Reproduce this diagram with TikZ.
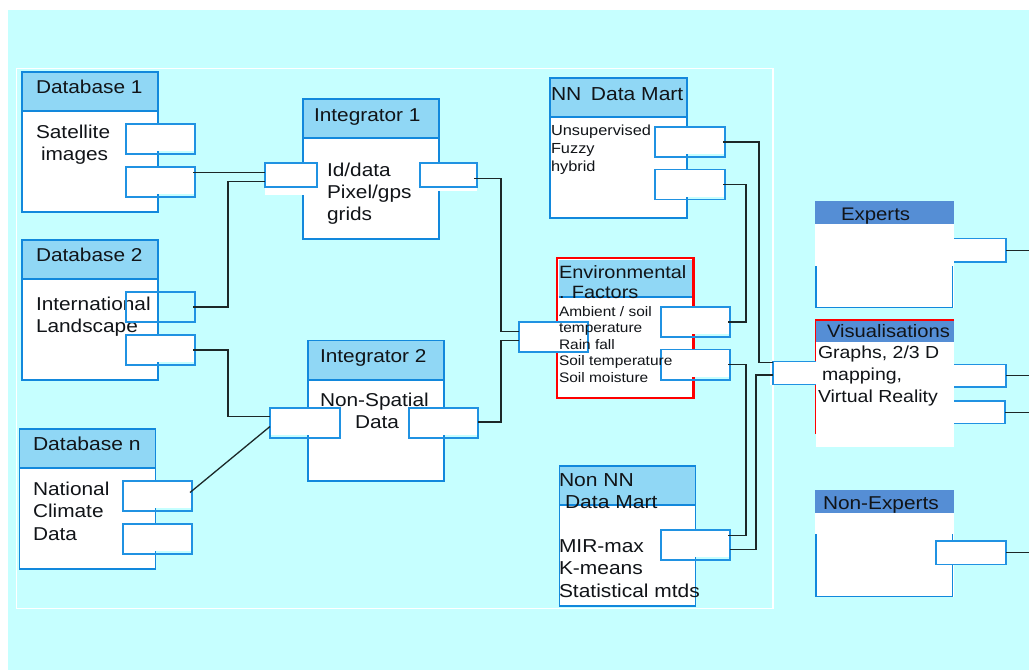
\documentclass[tikz,border=0pt]{standalone}
\usepackage{fontspec}
\setmainfont[FakeStretch=1.12]{Liberation Sans}
\definecolor{bgc}{HTML}{C6FFFF}
\definecolor{edgeb}{HTML}{1288DC}
\definecolor{portb}{HTML}{2092E2}
\definecolor{headl}{HTML}{90D7F5}
\definecolor{headd}{HTML}{558ED5}
\definecolor{ink}{HTML}{111418}
\definecolor{wirec}{HTML}{1C2828}
\tikzset{
  boxbody/.style={draw=edgeb,line width=1.7pt,fill=white,inner sep=0,outer sep=0},
  boxhead/.style={draw=edgeb,line width=1.4pt,fill=headl,inner sep=0,outer sep=0},
  redbody/.style={draw=red,line width=2.6pt,fill=white,inner sep=0,outer sep=0},
  redhead/.style={fill=headl,inner sep=0,outer sep=0},
  darkhead/.style={fill=headd,inner sep=0,outer sep=0},
  whitebody/.style={fill=white,inner sep=0,outer sep=0},
  portbox/.style={draw=portb,line width=1.4pt,inner sep=0,outer sep=0},
  labeltext/.style={anchor=base west,inner sep=0,outer sep=0,text=ink},
  conn/.style={draw=wirec,line width=1.4pt,line join=miter},
  sideline/.style={draw=edgeb,line width=1.5pt}
}
% rectangle node from corners: style, name, x1, y1, x2, y2
\newcommand\rectnode[6]{\node[#1,minimum width={(#5)-(#3)},minimum height={(#6)-(#4)}] (#2) at ({((#3)+(#5))/2},{((#4)+(#6))/2}) {};}
% port: name, x1, y1, x2, y2, lower edge of the white fill
\newcommand\portat[6]{\fill[white] (#2,#3) rectangle (#4,#6);\rectnode{portbox}{#1}{#2}{#3}{#4}{#5}}
% text: name, x, baseline, size, line pitch, lines
\newcommand\Ln[1]{\hbox{#1}}
\newcommand\txt[6]{\node[labeltext] (#1) at (#2,#3) {\fontsize{#4}{#5}\selectfont\vtop{\baselineskip=#5pt\lineskiplimit=-20pt #6}};}
% Z shaped wire: start, end, x of the vertical run
\newcommand\zwire[3]{\coordinate (zs) at #1;\coordinate (ze) at #2;\coordinate (zb) at (#3,0);\draw[conn] (zs) -- (zs -| zb) -- (ze -| zb) -- (ze);}
\begin{document}
\begin{tikzpicture}[x=1pt,y=-1pt]
\useasboundingbox (0,0) rectangle (1029,670);
\fill[white] (0,0) rectangle (1029,670);
\rectnode{fill=bgc,inner sep=0,outer sep=0}{sheet}{8}{10}{1029}{670}
\rectnode{draw=white,line width=1.4pt,inner sep=0,outer sep=0}{frame}{16.5}{68.5}{773}{608.5}

% boxes
\rectnode{boxbody}{dbOne}{22}{72}{158}{212}
\rectnode{boxhead}{dbOneH}{22}{72}{158}{111}
\rectnode{boxbody}{intOne}{303}{99}{439}{239}
\rectnode{boxhead}{intOneH}{303}{99}{439}{138}
\rectnode{boxbody}{dbTwo}{22}{240}{158}{380}
\rectnode{boxhead}{dbTwoH}{22}{240}{158}{279}
\rectnode{boxbody}{intTwo}{308}{340.5}{444}{481}
\rectnode{boxhead}{intTwoH}{308}{340.5}{444}{380}
\rectnode{boxbody}{dbN}{19.5}{429}{155.5}{569}
\rectnode{boxhead}{dbNH}{19.5}{429}{155.5}{468}
\rectnode{boxbody,line width=2.4pt}{nnMart}{550}{78}{687}{218}
\rectnode{boxhead,line width=2.4pt}{nnMartH}{550}{78}{687}{117}
\rectnode{redbody}{env}{557}{258}{693.5}{398}
\rectnode{redhead}{envH}{558.5}{259.5}{692}{297}
\draw[sideline] (envH.south west) -- (envH.south east);
\rectnode{boxbody}{nonNN}{559.5}{466}{695.5}{606}
\rectnode{boxhead}{nonNNH}{559.5}{466}{695.5}{505}

% right column
\rectnode{whitebody}{exp}{815}{201}{954}{307.5}
\rectnode{darkhead}{expH}{815}{201}{954}{224}
\draw[sideline] (816,266) -- (816,307.5) -- (952.5,307.5) -- (952.5,266);
\rectnode{whitebody}{viz}{816}{321}{954}{447}
\rectnode{darkhead}{vizH}{815}{320.5}{954}{342}
\draw[draw=red,line width=1.6pt] (954,320) -- (815.5,320) -- (815.5,434);
\rectnode{whitebody}{nonExp}{815}{490}{954}{596.5}
\rectnode{darkhead}{nonExpH}{815}{490}{954}{513}
\draw[sideline] (816,534) -- (816,596.5) -- (952.5,596.5) -- (952.5,534);

% text under the ports
\txt{tDbOne}{36}{93}{18.6}{22}{\Ln{Database 1}}
\txt{tDbOneB}{36}{138.3}{18.6}{21.8}{\Ln{Satellite}\Ln{\hspace*{5pt}images}}
\txt{tIntOne}{314}{121}{18.6}{22}{\Ln{Integrator 1}}
\txt{tIntOneB}{327}{176}{18.6}{22}{\Ln{Id/data}\Ln{Pixel/gps}\Ln{grids}}
\txt{tDbTwo}{36}{261}{18.6}{22}{\Ln{Database 2}}
\txt{tDbTwoB}{36}{310}{18.6}{22}{\Ln{International}\Ln{Landscape}}
\txt{tDbN}{33}{450.7}{18.8}{22}{\Ln{Database n}}
\txt{tDbNB}{33}{495}{18.6}{22.5}{\Ln{National}\Ln{Climate}\Ln{Data}}
\txt{tIntTwo}{320}{362}{18.6}{22}{\Ln{Integrator 2}}
\txt{tIntTwoB}{320}{406}{18.6}{22.7}{\Ln{Non-Spatial}\Ln{\hspace*{35pt}Data}}
\txt{tNN}{551}{100}{18.8}{22}{\Ln{NN\hspace*{9.5pt}Data Mart}}
\txt{tNNB}{551}{135}{14.6}{18}{\Ln{Unsupervised}\Ln{Fuzzy}\Ln{hybrid}}
\txt{tNon}{559}{486.7}{18.8}{22}{\Ln{Non NN}\Ln{\hspace*{6pt}Data Mart}}
\txt{tNonB}{559}{552.7}{18.7}{22.2}{\Ln{MIR-max}\Ln{K-means}\Ln{Statistical mtds}}
\txt{tExp}{841}{220}{18.2}{22}{\Ln{Experts}}
\txt{tViz}{827}{337.7}{18}{22}{\Ln{Visualisations}}
\txt{tVizB}{818}{358.7}{17.4}{21.7}{\Ln{Graphs, 2/3 D}\Ln{\hspace*{4pt}mapping,}\Ln{Virtual Reality}}
\txt{tNonExp}{823}{509}{18.6}{22}{\Ln{Non-Experts}}

% ports
\portat{dbOneA}{126}{124}{195}{154}{151}
\portat{dbOneB}{126}{167}{195}{197}{194}
\fill[white] (265,163) rectangle (317,195);
\rectnode{portbox}{intOneL}{265}{163}{317}{187}
\fill[white] (420,163) rectangle (477,191);
\rectnode{portbox}{intOneR}{420}{163}{477}{187}
\rectnode{portbox}{dbTwoA}{126}{292}{195}{322}
\portat{dbTwoB}{126}{335}{195}{365}{362}
\portat{dbNA}{123}{481}{192}{511}{508}
\portat{dbNB}{123}{524}{192}{554}{551}
\portat{intTwoL}{270}{408}{340}{438}{435}
\portat{intTwoR}{409}{408}{478}{438}{435}
\portat{nnA}{655}{127}{725}{157}{154}
\portat{nnB}{655}{169.5}{725}{199.5}{197}
\portat{envA}{661}{307}{730}{337}{334}
\portat{envB}{661}{349.5}{730}{380}{377}
\portat{envL}{519}{322}{588}{352}{352}
\portat{nonNNP}{661}{530}{730}{560}{557}

% ports of the right column: their inner side has no rule
\rectnode{whitebody}{expP}{954}{238.5}{1006}{262}
\draw[sideline,draw=portb] (954,238.5) -- (1006,238.5) -- (1006,262) -- (954,262);
\fill[white] (770,361) rectangle (817,385);
\rectnode{whitebody}{vizL}{773}{361.5}{816}{384.5}
\draw[sideline,draw=portb] (816,361.5) -- (773,361.5) -- (773,384.5) -- (816,384.5);
\rectnode{whitebody}{vizA}{954}{364.5}{1006}{387}
\draw[sideline,draw=portb] (954,364.5) -- (1006,364.5) -- (1006,387) -- (954,387);
\rectnode{whitebody}{vizB}{954}{401}{1005}{423.5}
\draw[sideline,draw=portb] (954,401) -- (1005,401) -- (1005,423.5) -- (954,423.5);
\portat{nonExpP}{936}{541}{1006}{564.5}{564.5}

% text over the ports
\txt{tEnv}{559}{278}{17.8}{20.7}{\Ln{Environmental}\Ln{. Factors}}
\txt{tEnvB}{559}{316}{13.8}{16.5}{\Ln{Ambient / soil}\Ln{temperature}\Ln{Rain fall}\Ln{Soil temperature}\Ln{Soil moisture}}

% connectors
\coordinate (edgeR) at (1029,0);
\draw[conn] ([xshift=-2pt,yshift=9.3pt]dbOneB.east) -- ([yshift=2.3pt]intOneL.west);
\zwire{([xshift=-2pt]dbTwoA.east)}{([yshift=-6.5pt]intOneL.west)}{228}
\zwire{([xshift=-2pt]dbTwoB.east)}{([yshift=6.3pt]intTwoL.west)}{228}
\draw[conn,line width=1.3pt] ([xshift=-2pt,yshift=3.5pt]dbNA.east) -- ([yshift=-3.5pt]intTwoL.west);
\zwire{([xshift=-3pt,yshift=-3.3pt]intOneR.east)}{([yshift=5.7pt]envL.west)}{501}
\zwire{([yshift=1pt]intTwoR.east)}{([yshift=-3.3pt]envL.west)}{501}
\zwire{([xshift=-2pt]nnA.east)}{([yshift=10.3pt]vizL.west)}{759}
\zwire{([xshift=-2pt]nnB.east)}{([xshift=-2pt]envA.east)}{746}
\zwire{([xshift=-2pt]envB.east)}{([xshift=-2pt,yshift=9.3pt]nonNNP.east)}{746}
\zwire{([yshift=-4.7pt]nonNNP.east)}{([yshift=-2pt]vizL.west)}{756}
\draw[conn] (expP.east) -- (expP.east -| edgeR);
\draw[conn] (vizA.east) -- (vizA.east -| edgeR);
\draw[conn] (vizB.east) -- (vizB.east -| edgeR);
\draw[conn] (nonExpP.east) -- (nonExpP.east -| edgeR);
\end{tikzpicture}
\end{document}
